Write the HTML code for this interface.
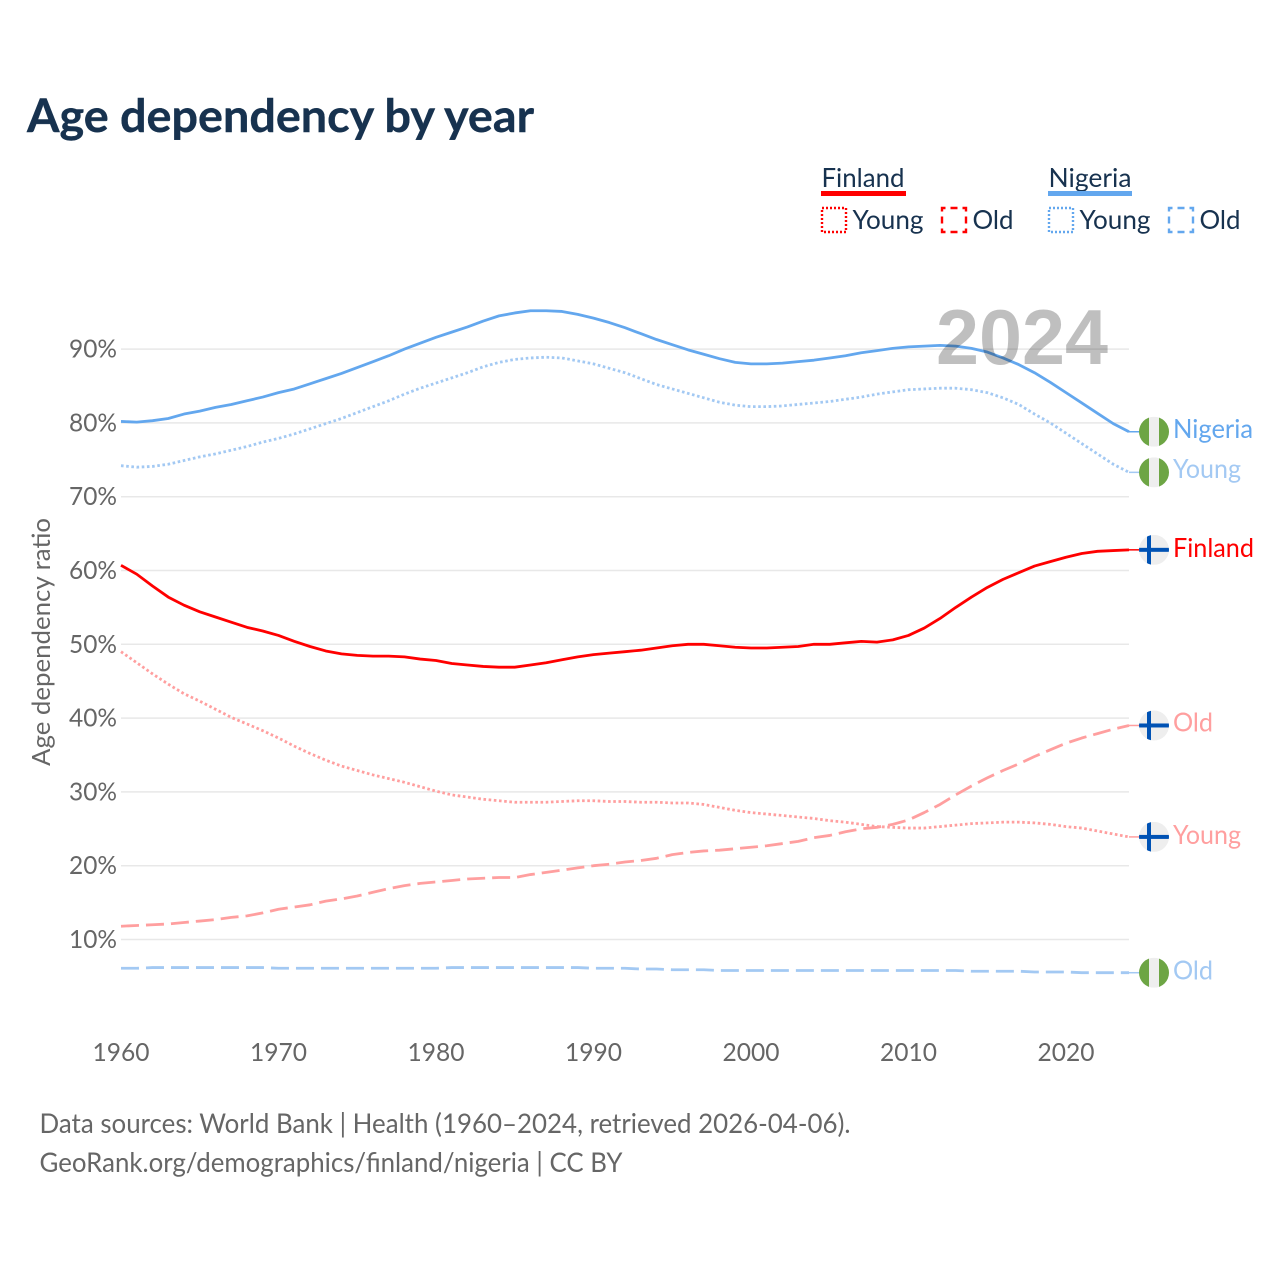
<!DOCTYPE html>
<html lang="en">
<head>
<meta charset="utf-8">
<title>Age dependency by year</title>
<style>
  html, body { margin: 0; padding: 0; background: #fff; }
  svg { display: block; }
  text { font-family: "Lato", "Carlito", "Liberation Sans", sans-serif; }
</style>
</head>
<body>
<svg id="chart" xmlns="http://www.w3.org/2000/svg" width="1280" height="1280" viewBox="0 0 1280 1280">
  <defs>
    <clipPath id="flag-clip"><circle cx="0" cy="0" r="15"></circle></clipPath>
  </defs>
  <rect x="0" y="0" width="1280" height="1280" fill="#ffffff"></rect>
  <text x="27" y="132" font-size="46" font-weight="700" fill="#17324f" stroke="#17324f" stroke-width="0.4" textLength="507" lengthAdjust="spacingAndGlyphs">Age dependency by year</text>

  <g font-size="26" fill="#17324f">
    <text x="821.5" y="187" textLength="83" lengthAdjust="spacingAndGlyphs">Finland</text>
    <rect x="821" y="191" width="85" height="5" fill="#ff0000"></rect>
    <rect x="822" y="208" width="24" height="24" fill="none" stroke="#ff0000" stroke-width="2.4" stroke-dasharray="2 2"></rect>
    <text x="852.5" y="229" textLength="71" lengthAdjust="spacingAndGlyphs">Young</text>
    <rect x="942" y="208" width="24" height="24" fill="none" stroke="#ff0000" stroke-width="2.4" stroke-dasharray="7 5" stroke-dashoffset="3.5"></rect>
    <text x="972.5" y="229" textLength="41" lengthAdjust="spacingAndGlyphs">Old</text>
    <text x="1048.5" y="187" textLength="83" lengthAdjust="spacingAndGlyphs">Nigeria</text>
    <rect x="1048" y="191" width="84" height="5" fill="#63a7ee"></rect>
    <rect x="1049" y="208" width="24" height="24" fill="none" stroke="#63a7ee" stroke-width="2.4" stroke-dasharray="2 2"></rect>
    <text x="1079.5" y="229" textLength="71" lengthAdjust="spacingAndGlyphs">Young</text>
    <rect x="1169" y="208" width="24" height="24" fill="none" stroke="#63a7ee" stroke-width="2.4" stroke-dasharray="7 5" stroke-dashoffset="3.5"></rect>
    <text x="1199.5" y="229" textLength="41" lengthAdjust="spacingAndGlyphs">Old</text>
  </g>

  <g id="grid"></g>
  <g id="y-ticks" font-size="25" fill="#666666" text-anchor="end"></g>
  <g id="x-ticks" font-size="25" fill="#666666" text-anchor="middle"></g>
  <text transform="translate(50 642) rotate(-90)" text-anchor="middle" font-size="25" fill="#666666" textLength="248" lengthAdjust="spacingAndGlyphs">Age dependency ratio</text>

  <g id="series" fill="none" stroke-linejoin="round"></g>
  <g id="end-labels" font-size="26"></g>

  <text x="936" y="364" style="font-family:'Liberation Sans',sans-serif" font-size="78" font-weight="700" fill="#000000" fill-opacity="0.25" textLength="172" lengthAdjust="spacingAndGlyphs">2024</text>

  <g font-size="27" fill="#666666">
    <text x="39.5" y="1133" textLength="811" lengthAdjust="spacingAndGlyphs">Data sources: World Bank | Health (1960–2024, retrieved 2026-04-06).</text>
    <text x="39.5" y="1172" textLength="583" lengthAdjust="spacingAndGlyphs">GeoRank.org/demographics/finland/nigeria | CC BY</text>
  </g>
</svg>
<script>
const firstYear = 1960;
const xTickYears = [1960, 1970, 1980, 1990, 2000, 2010, 2020];
const yTickValues = [10, 20, 30, 40, 50, 60, 70, 80, 90];

const finlandTotal = [60.7,59.5,57.9,56.4,55.3,54.4,53.7,53.0,52.3,51.8,51.2,50.4,49.7,49.1,48.7,48.5,48.4,48.4,48.3,48.0,47.8,47.4,47.2,47.0,46.9,46.9,47.2,47.5,47.9,48.3,48.6,48.8,49.0,49.2,49.5,49.8,50.0,50.0,49.8,49.6,49.5,49.5,49.6,49.7,50.0,50.0,50.2,50.4,50.3,50.6,51.2,52.2,53.5,55.0,56.4,57.7,58.8,59.7,60.6,61.2,61.8,62.3,62.6,62.7,62.8];
const finlandYoung = [49.0,47.5,46.0,44.6,43.3,42.3,41.2,40.1,39.2,38.3,37.3,36.2,35.2,34.3,33.5,32.9,32.3,31.8,31.3,30.7,30.1,29.6,29.3,29.0,28.8,28.6,28.6,28.6,28.7,28.8,28.8,28.7,28.7,28.6,28.6,28.5,28.5,28.3,27.9,27.5,27.2,27.0,26.8,26.6,26.4,26.1,25.9,25.6,25.3,25.2,25.1,25.1,25.3,25.5,25.7,25.8,25.9,25.9,25.8,25.6,25.3,25.1,24.7,24.3,23.9];
const finlandOld = [11.8,11.9,12.0,12.1,12.3,12.5,12.7,13.0,13.2,13.6,14.1,14.4,14.7,15.2,15.5,15.9,16.4,16.9,17.3,17.6,17.8,18.0,18.2,18.3,18.4,18.4,18.8,19.1,19.4,19.7,20.0,20.2,20.5,20.7,21.0,21.5,21.8,22.0,22.1,22.3,22.5,22.7,23.0,23.3,23.8,24.1,24.6,25.0,25.2,25.6,26.2,27.2,28.3,29.6,30.8,31.9,32.9,33.8,34.8,35.7,36.6,37.3,37.9,38.5,39.0];
const nigeriaTotal = [80.2,80.1,80.3,80.6,81.2,81.6,82.1,82.5,83.0,83.5,84.1,84.6,85.3,86.0,86.7,87.5,88.3,89.1,90.0,90.8,91.6,92.3,93.0,93.8,94.5,94.9,95.2,95.2,95.1,94.7,94.2,93.6,92.9,92.1,91.3,90.6,89.9,89.3,88.7,88.2,88.0,88.0,88.1,88.3,88.5,88.8,89.1,89.5,89.8,90.1,90.3,90.4,90.5,90.4,90.1,89.6,88.8,87.9,86.8,85.5,84.1,82.7,81.3,79.9,78.8];
const nigeriaYoung = [74.2,74.0,74.1,74.4,74.9,75.4,75.8,76.3,76.8,77.4,77.9,78.5,79.2,79.9,80.6,81.4,82.2,83.0,83.9,84.7,85.4,86.1,86.8,87.6,88.2,88.6,88.8,88.9,88.8,88.4,88.0,87.4,86.8,86.0,85.2,84.6,84.0,83.4,82.8,82.4,82.2,82.2,82.3,82.5,82.7,82.9,83.2,83.5,83.9,84.2,84.5,84.6,84.7,84.7,84.5,84.1,83.4,82.5,81.2,80.0,78.6,77.2,75.8,74.4,73.3];
const nigeriaOld = [6.1,6.1,6.2,6.2,6.2,6.2,6.2,6.2,6.2,6.2,6.1,6.1,6.1,6.1,6.1,6.1,6.1,6.1,6.1,6.1,6.1,6.2,6.2,6.2,6.2,6.2,6.2,6.2,6.2,6.2,6.1,6.1,6.1,6.0,6.0,5.9,5.9,5.9,5.8,5.8,5.8,5.8,5.8,5.8,5.8,5.8,5.8,5.8,5.8,5.8,5.8,5.8,5.8,5.8,5.7,5.7,5.7,5.7,5.6,5.6,5.6,5.5,5.5,5.5,5.5];

const NS = 'http://www.w3.org/2000/svg';
function xScale(year) { return 121 + (year - firstYear) * 15.75; }
function yScale(value) { return 1013.3 - value * 7.38; }
function make(tag, attrs, parent) {
  const el = document.createElementNS(NS, tag);
  for (const key in attrs) el.setAttribute(key, attrs[key]);
  parent.appendChild(el);
  return el;
}

const grid = document.getElementById('grid');
const yTicks = document.getElementById('y-ticks');
const xTicks = document.getElementById('x-ticks');
const seriesGroup = document.getElementById('series');
const endLabels = document.getElementById('end-labels');

yTickValues.forEach(function (value) {
  const line = make('line', { x1: 121, x2: 1129, y1: yScale(value), y2: yScale(value), stroke: '#e8e8e8', 'stroke-width': 1.5 }, grid);
  
  
  const label = make('text', { x: 117, y: yScale(value) + 8.5, textLength: 48, lengthAdjust: 'spacingAndGlyphs' }, yTicks);
  
  
  label.textContent = value + '%';
});

xTickYears.forEach(function (year) {
  const label = make('text', { x: xScale(year), y: 1061, textLength: 57, lengthAdjust: 'spacingAndGlyphs' }, xTicks);
  
  
  label.textContent = year;
});

function drawFlag(kind, cy, parent) {
  const g = make('g', { transform: 'translate(1154 ' + cy + ')', 'clip-path': 'url(#flag-clip)' }, parent);
  
  
  make('rect', { x: -15, y: -15, width: 30, height: 30, fill: '#eeeeee' }, g);
  if (kind === 'nigeria') {
    make('rect', { x: -15, y: -15, width: 10, height: 30, fill: '#6da544' }, g);
    make('rect', { x: 5, y: -15, width: 10, height: 30, fill: '#6da544' }, g);
  } else {
    make('rect', { x: -15, y: -2, width: 30, height: 4, fill: '#0052b4' }, g);
    make('rect', { x: -7, y: -15, width: 4, height: 30, fill: '#0052b4' }, g);
  }
}

function drawSeries(name, kind, values, color, dash, width, labelText, labelLen, labelShift) {
  let d = '';
  values.forEach(function (value, i) {
    d += (i ? 'L' : 'M') + xScale(firstYear + i).toFixed(2) + ' ' + yScale(value).toFixed(2);
  });
  const flagY = yScale(values[values.length - 1]);
  const path = make('path', { d: d, stroke: color, 'stroke-width': width }, seriesGroup);
  if (dash) path.setAttribute('stroke-dasharray', dash);
  
  
  const connector = make('line', { x1: xScale(firstYear + values.length - 1), y1: flagY, x2: 1141, y2: flagY, stroke: color, 'stroke-width': 1.5 }, seriesGroup);
  
  
  drawFlag(kind, flagY, endLabels);
  const label = make('text', { x: 1173, y: flagY + 7 + labelShift, fill: color, textLength: labelLen, lengthAdjust: 'spacingAndGlyphs' }, endLabels);
  
  
  label.textContent = labelText;
}

drawSeries('nigeria-old', 'nigeria', nigeriaOld, '#a3c9f3', '18 7', 2.8, 'Old', 40, 0);
drawSeries('nigeria-young', 'nigeria', nigeriaYoung, '#a3c9f3', '2.6 2.6', 2.8, 'Young', 68, -1.5);
drawSeries('nigeria-total', 'nigeria', nigeriaTotal, '#63a7ee', '', 2.8, 'Nigeria', 80, -1);
drawSeries('finland-old', 'finland', finlandOld, '#ff9f9f', '18 7', 2.8, 'Old', 40, -1);
drawSeries('finland-young', 'finland', finlandYoung, '#ff9f9f', '2.6 2.6', 2.8, 'Young', 68, 0);
drawSeries('finland-total', 'finland', finlandTotal, '#ff0000', '', 2.8, 'Finland', 81, 0);
</script>
</body>
</html>
